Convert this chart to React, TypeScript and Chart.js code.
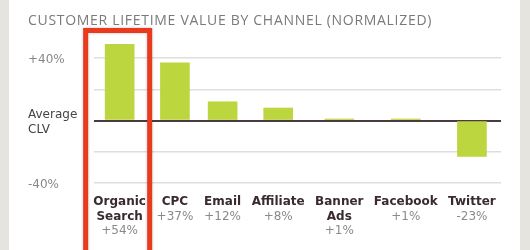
import React, { useEffect, useRef } from "react";
import { Chart, registerables } from "chart.js";

Chart.register(...registerables);

const title = "CUSTOMER LIFETIME VALUE BY CHANNEL (NORMALIZED)";
const categories = ["Organic\nSearch", "CPC", "Email", "Affiliate", "Banner\nAds", "Facebook", "Twitter"];
const values = [54, 37, 12, 8, 1, 1, -23];
const valueLabels = ["+54%", "+37%", "+12%", "+8%", "+1%", "+1%", "-23%"];
const yTicks = [-40, -20, 0, 20, 40];
const yTickLabels = ["-40%", "", "Average\nCLV", "", "+40%"];
const yMin = -40;
const yMax = 49;
const highlighted = 0;

const FONT = "'DejaVu Sans', Verdana, sans-serif";
const NAME_FONT = `bold 12px ${FONT}`;
const VALUE_FONT = `12px ${FONT}`;
const COL_GAP = 12;

function columnLayout() {
  const c = document.createElement("canvas").getContext("2d")!;
  const widths = categories.map((cat, i) => {
    c.font = NAME_FONT;
    let w = Math.max(...cat.split("\n").map((l) => c.measureText(l).width));
    c.font = VALUE_FONT;
    w = Math.max(w, c.measureText(valueLabels[i]).width);
    return w + COL_GAP;
  });
  const centers: number[] = [];
  let acc = 0;
  widths.forEach((w) => {
    centers.push(acc + w / 2);
    acc += w;
  });
  return { centers, total: acc };
}

const labelsPlugin = {
  id: "xLabels",
  afterDraw(chart: any) {
    const { ctx } = chart;
    const meta = chart.getDatasetMeta(0);
    ctx.save();
    ctx.textAlign = "center";
    ctx.textBaseline = "middle";
    meta.data.forEach((bar: any, i: number) => {
      const x = bar.x;
      let y = 202;
      ctx.font = NAME_FONT;
      ctx.fillStyle = "#3a2a2e";
      categories[i].split("\n").forEach((line) => {
        ctx.fillText(line, x, y);
        y += 14.5;
      });
      ctx.font = VALUE_FONT;
      ctx.fillStyle = "#8a8a8a";
      ctx.fillText(valueLabels[i], x, y);
    });
    // highlight box
    const hb = meta.data[highlighted];
    if (hb) {
      ctx.strokeStyle = "#ea3a1e";
      ctx.lineWidth = 5;
      ctx.shadowColor = "rgba(0,0,0,0.25)";
      ctx.shadowBlur = 3;
      ctx.strokeRect(hb.x - 34, 30.5, 64, 240);
    }
    ctx.restore();
  },
};

function ChartView() {
  const ref = useRef<HTMLCanvasElement>(null);
  useEffect(() => {
    const { centers, total } = columnLayout();
    const chart = new Chart(ref.current!, {
      type: "bar",
      data: {
        datasets: [
          {
            data: values.map((v, i) => ({ x: centers[i], y: v })),
            backgroundColor: "#bcd63f",
            barThickness: 29,
            clip: 0,
          },
        ],
      },
      options: {
        animation: false,
        responsive: false,
        events: [],
        layout: { padding: { top: 44, bottom: 67, left: 28, right: 29 } },
        plugins: { legend: { display: false }, tooltip: { enabled: false } },
        scales: {
          x: { type: "linear", min: COL_GAP / 2, max: total, offset: false, display: false },
          y: {
            min: yMin,
            max: yMax,
            afterBuildTicks: (axis: any) => {
              axis.ticks = yTicks.map((v) => ({ value: v }));
            },
            afterFit: (axis: any) => {
              axis.width = 66;
            },
            border: { display: false },
            grid: {
              drawTicks: false,
              color: (ctx: any) => (ctx.tick && ctx.tick.value === 0 ? "#4a3b40" : "#dedede"),
              lineWidth: (ctx: any) => (ctx.tick && ctx.tick.value === 0 ? 2 : 1.5),
            },
            ticks: {
              crossAlign: "far",
              padding: 0,
              labelOffset: 2,
              font: { family: FONT, size: 12 },
              color: (ctx: any) => (ctx.tick && ctx.tick.value === 0 ? "#444" : "#888"),
              callback: (value: any) => {
                const idx = yTicks.indexOf(Number(value));
                const label = idx >= 0 ? yTickLabels[idx] : "";
                return label.includes("\n") ? label.split("\n") : label;
              },
            },
          },
        },
      },
      plugins: [labelsPlugin],
    });
    return () => chart.destroy();
  }, []);
  return <canvas ref={ref} width={530} height={250} style={{ position: "absolute", left: 0, top: 0 }} />;
}

export default function App() {
  return (
    <div style={{ position: "fixed", left: 0, top: 0, width: 530, height: 250, background: "#e6e4df", overflow: "hidden" }}>
      <div style={{ position: "absolute", left: 9, top: 0, width: 511, height: 250, background: "#ffffff" }} />
      <ChartView />
      <div
        style={{
          position: "absolute",
          left: 28,
          top: 10,
          fontFamily: "'Open Sans', sans-serif",
          fontSize: 14,
          letterSpacing: 0.7,
          color: "#7a7a7a",
          whiteSpace: "nowrap",
          lineHeight: "20px",
        }}
      >
        {title}
      </div>
    </div>
  );
}
